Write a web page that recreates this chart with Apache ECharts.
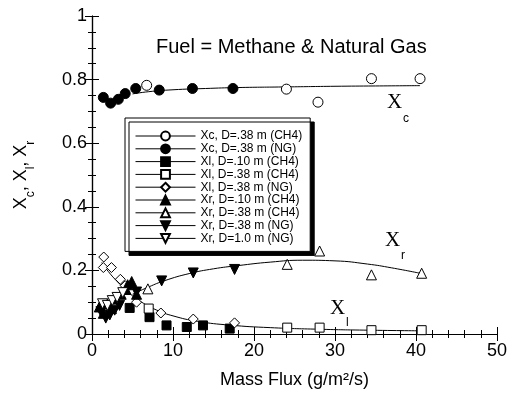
<!DOCTYPE html>
<html>
<head>
<meta charset="utf-8">
<script src="https://cdn.jsdelivr.net/npm/echarts@6/dist/echarts.min.js"></script>
<style>
html,body{margin:0;padding:0;background:#fff;}
#chart{width:512px;height:394px;}
</style>
</head>
<body>
<div id="chart"></div>
<script>
// ---- data ----
var xTicks = [0, 10, 20, 30, 40, 50];
var yTicks = [0, 0.2, 0.4, 0.6, 0.8, 1];

var xcCH4_038 = [[6.75,0.782],[24.0,0.770],[27.9,0.729],[34.5,0.803],[40.5,0.803]];
var xcNG_038  = [[1.4,0.744],[2.3,0.726],[3.25,0.738],[4.1,0.756],[5.4,0.772],[8.3,0.767],[12.4,0.772],[17.4,0.772]];
var xlCH4_010 = [[4.65,0.082],[7.1,0.053],[9.2,0.027],[11.7,0.022],[13.7,0.027],[17.0,0.017]];
var xlCH4_038 = [[7.0,0.080],[24.1,0.020],[28.1,0.020],[34.5,0.012],[40.7,0.012]];
var xlNG_038  = [[1.45,0.242],[1.4,0.209],[2.4,0.209],[3.5,0.172],[4.1,0.152],[5.5,0.100],[8.5,0.066],[12.5,0.047],[17.6,0.035]];
var xrCH4_010 = [[0.9,0.085],[1.4,0.065],[1.9,0.095],[2.4,0.08],[3.0,0.11],[3.6,0.125],[4.2,0.14],[4.4,0.155],[4.9,0.165],[5.5,0.125]];
var xrCH4_038 = [[6.9,0.142],[24.1,0.219],[28.1,0.261],[34.5,0.186],[40.7,0.191]];
var xrNG_038  = [[1.1,0.07],[1.7,0.05],[2.2,0.06],[2.8,0.075],[3.4,0.09],[5.5,0.132],[8.6,0.167],[12.5,0.192],[17.6,0.203]];
var xrNG_100  = [[1.3,0.095],[1.9,0.09],[2.5,0.105],[3.1,0.115],[3.8,0.13]];

var xcFit = [[5,0.755],[7,0.762],[10,0.768],[14,0.772],[18,0.775],[24,0.777],[30,0.779],[35,0.780],[40.5,0.781]];
var xrFit = [[5,0.125],[7,0.148],[9,0.168],[12,0.19],[15,0.205],[18,0.215],[22,0.226],[26,0.232],[30,0.230],[34,0.220],[37,0.208],[40.7,0.19]];
var xlFit = [[1.2,0.225],[2,0.197],[3,0.168],[4,0.143],[5,0.12],[6,0.102],[8,0.075],[10,0.057],[13,0.04],[17,0.028],[22,0.02],[28,0.015],[34,0.012],[40.7,0.01]];

var names = [
  'Xc, D=.38 m (CH4)','Xc, D=.38 m (NG)','Xl, D=.10 m (CH4)','Xl, D=.38 m (CH4)','Xl, D=.38 m (NG)',
  'Xr, D=.10 m (CH4)','Xr, D=.38 m (CH4)','Xr, D=.38 m (NG)','Xr, D=1.0 m (NG)'
];

// ---- chart ----
var SANS = '"Liberation Sans", Arial, Helvetica, sans-serif';
var SERIF = '"Liberation Serif", "Times New Roman", serif';
var chart = echarts.init(document.getElementById('chart'), null, {renderer:'canvas'});

function pts(name, data, symbol, filled, rotate, size) {
  return {
    name: name, type: 'line', data: data,
    symbol: symbol, symbolSize: size || 9, symbolRotate: rotate || 0,
    showSymbol: true, showAllSymbol: true,
    lineStyle: {width: 0, opacity: 0},
    itemStyle: {color: filled ? '#000' : '#fff', borderColor: '#000', borderWidth: 1, opacity: 1},
    emphasis: {disabled: true}, animation: false, z: 3
  };
}
function fit(data) {
  return {
    type: 'line', data: data, smooth: true, showSymbol: false, symbol: 'none',
    lineStyle: {color: '#000', width: 1}, silent: true, animation: false, z: 2
  };
}

var axisCommon = {
  type: 'value',
  axisLine: {show: true, lineStyle: {color: '#000', width: 1.2}},
  axisTick: {show: true, inside: true, length: 7, lineStyle: {color: '#000', width: 1}},
  minorTick: {show: true, length: 4, lineStyle: {color: '#000', width: 1}},
  splitLine: {show: false}
};

var option = {
  backgroundColor: '#fff',
  animation: false,
  title: {
    text: 'Fuel = Methane & Natural Gas', left: 151, top: 32,
    textStyle: {fontFamily: SANS, fontSize: 20, fontWeight: 'normal', color: '#000'}
  },
  grid: {left: 92, right: 15, top: 16, bottom: 57},
  legend: {
    data: names, orient: 'vertical', left: 125, top: 118,
    padding: [12, 8, 7, 10], itemWidth: 60, itemHeight: 11, itemGap: 0.8,
    backgroundColor: '#fff', borderColor: '#000', borderWidth: 1,
    shadowColor: '#000', shadowBlur: 0, shadowOffsetX: 4, shadowOffsetY: 4,
    lineStyle: {width: 1, color: '#000', opacity: 1},
    textStyle: {fontFamily: SANS, fontSize: 12, color: '#000'},
    selectedMode: false
  },
  xAxis: [
    Object.assign({}, axisCommon, {
      min: 0, max: 50, interval: 10, position: 'bottom',
      minorTick: {show: true, splitNumber: 5, length: 4, lineStyle: {color: '#000'}},
      axisLabel: {fontFamily: SANS, fontSize: 18, color: '#000', margin: 8},
      name: 'Mass Flux (g/m\u00B2/s)', nameLocation: 'middle', nameGap: 37,
      nameTextStyle: {fontFamily: SANS, fontSize: 18, color: '#000'}
    }),
    Object.assign({}, axisCommon, {
      min: 0, max: 50, interval: 10, position: 'top',
      minorTick: {show: true, splitNumber: 5, length: 4, lineStyle: {color: '#000'}},
      axisLabel: {show: false}
    })
  ],
  yAxis: [
    Object.assign({}, axisCommon, {
      min: 0, max: 1, interval: 0.2, position: 'left',
      minorTick: {show: true, splitNumber: 4, length: 4, lineStyle: {color: '#000'}},
      axisLabel: {fontFamily: SANS, fontSize: 18, color: '#000', margin: 5,
        formatter: function (v) { return yTicks.indexOf(+v.toFixed(1)) >= 0 ? String(+v.toFixed(1)) : ''; }},
      name: '{x|X}{s|c}{x|, X}{s|l}{x|, X}{s|r}', nameLocation: 'middle', nameRotate: 90, nameGap: 55,
      nameTextStyle: {
        rich: {
          x: {fontFamily: SANS, fontSize: 18, color: '#000', lineHeight: 20, verticalAlign: 'middle'},
          s: {fontFamily: SANS, fontSize: 12, color: '#000', lineHeight: 32, verticalAlign: 'bottom'}
        }
      }
    }),
    Object.assign({}, axisCommon, {
      min: 0, max: 1, interval: 0.2, position: 'right',
      minorTick: {show: true, splitNumber: 4, length: 4, lineStyle: {color: '#000'}},
      axisLabel: {show: false}
    })
  ],
  series: [
    fit(xcFit), fit(xrFit), fit(xlFit),
    pts(names[0], xcCH4_038, 'circle', false, 0, 10),
    pts(names[1], xcNG_038, 'circle', true, 0, 10),
    pts(names[2], xlCH4_010, 'rect', true, 0, 9),
    pts(names[3], xlCH4_038, 'rect', false, 0, 9),
    pts(names[4], xlNG_038, 'diamond', false, 0, 10),
    pts(names[5], xrCH4_010, 'triangle', true, 0, 10),
    pts(names[6], xrCH4_038, 'triangle', false, 0, 10),
    pts(names[7], xrNG_038, 'triangle', true, 180, 10),
    pts(names[8], xrNG_100, 'triangle', false, 180, 10)
  ],
  graphic: [
    {type: 'text', left: 387, top: 92, style: {text: 'X', font: 'normal 21px ' + SERIF, fill: '#000'}},
    {type: 'text', left: 403, top: 113, style: {text: 'c', font: 'normal 12px ' + SANS, fill: '#000'}},
    {type: 'text', left: 385, top: 230, style: {text: 'X', font: 'normal 21px ' + SERIF, fill: '#000'}},
    {type: 'text', left: 401, top: 250, style: {text: 'r', font: 'normal 12px ' + SANS, fill: '#000'}},
    {type: 'text', left: 330, top: 298, style: {text: 'X', font: 'normal 21px ' + SERIF, fill: '#000'}},
    {type: 'text', left: 346, top: 317, style: {text: 'l', font: 'normal 12px ' + SANS, fill: '#000'}}
  ]
};
chart.setOption(option);
</script>
</body>
</html>
